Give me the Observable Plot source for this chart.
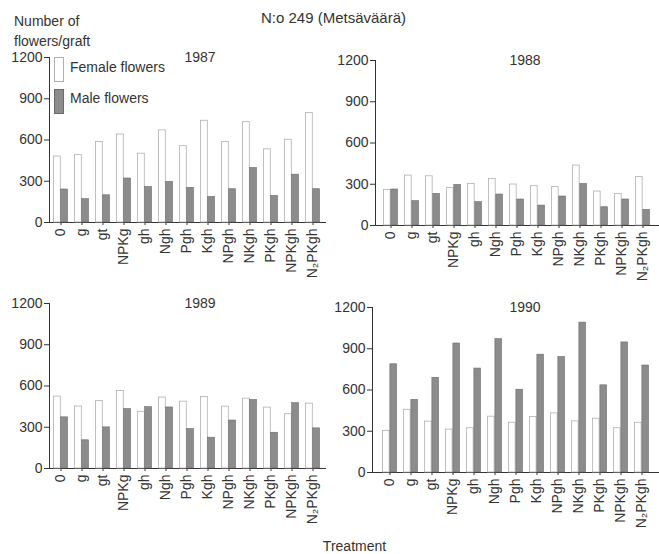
<!DOCTYPE html>
<html>
<head>
<meta charset="utf-8">
<script src="https://cdn.jsdelivr.net/npm/d3@7"></script>
<script src="https://cdn.jsdelivr.net/npm/@observablehq/plot@0.6"></script>
<style>
  body { margin: 0; background: #fff; }
  #chart { position: relative; width: 659px; height: 554px; font-family: "Liberation Sans", Arial, sans-serif; color: #333; overflow: hidden; }
  .abs { position: absolute; white-space: nowrap; }
  .txt { font-size: 14px; line-height: 16px; color: #333; }
  .box { position: absolute; width: 8px; height: 23px; }
</style>
</head>
<body>
<div id="chart"></div>
<script>
const categories = ["0", "g", "gt", "NPKg", "gh", "Ngh", "Pgh", "Kgh", "NPgh", "NKgh", "PKgh", "NPKgh", "N₂PKgh"];
const female1987 = [480, 490, 585, 640, 500, 670, 555, 740, 585, 730, 532, 602, 796];
const male1987   = [240, 170, 198, 320, 258, 295, 252, 186, 242, 396, 193, 348, 242];
const female1988 = [259, 363, 358, 272, 302, 338, 298, 286, 279, 436, 247, 230, 352];
const male1988   = [262, 177, 230, 295, 170, 225, 189, 145, 211, 302, 133, 189, 114];
const female1989 = [523, 451, 490, 564, 412, 516, 486, 520, 450, 508, 443, 395, 472];
const male1989   = [372, 205, 299, 432, 446, 444, 287, 224, 349, 498, 260, 475, 292];
const female1990 = [302, 456, 370, 312, 322, 406, 362, 403, 430, 372, 391, 322, 362];
const male1990   = [787, 528, 689, 938, 756, 970, 602, 857, 840, 1090, 634, 946, 778];
const yTicks = [0, 300, 600, 900, 1200];
const years = ["1987", "1988", "1989", "1990"];

const chart = document.getElementById("chart");
const FONT = "'Liberation Sans', Arial, sans-serif";

function panel(female, male, cfg) {
  const rows = categories.map((c, i) => ({treatment: c, female: female[i], male: male[i]}));
  const pI = 0.28, pO = cfg.pO;
  const step = (cfg.width - cfg.marginLeft - cfg.marginRight) / (categories.length - pI + 2 * pO);
  const half = step * (1 - pI) / 2;
  return Plot.plot({
    width: cfg.width,
    height: 245,
    marginTop: 12,
    marginBottom: 68,
    marginLeft: cfg.marginLeft,
    marginRight: cfg.marginRight,
    style: {fontFamily: FONT, fontSize: "14px", color: "#333", background: "transparent"},
    x: {domain: categories, paddingInner: pI, paddingOuter: pO, tickRotate: -90, tickSize: 3, tickPadding: 3, label: null, line: true},
    y: {domain: [0, 1200], ticks: yTicks, tickFormat: "d", tickSize: 5, tickPadding: 2, label: null, line: true},
    marks: [
      Plot.barY(rows, {x: "treatment", y: "female", fill: "white", stroke: "#b0b0b0", strokeWidth: 0.8, insetLeft: 0.5, insetRight: half}),
      Plot.barY(rows, {x: "treatment", y: "male", fill: "#8c8c8c", stroke: "#6a6a6a", strokeWidth: 0.6, insetLeft: half, insetRight: 0.5})
    ]
  });
}

function place(el, left, top) {
  el.style.position = "absolute";
  el.style.left = left + "px";
  el.style.top = top + "px";
  chart.appendChild(el);
}

place(panel(female1987, male1987, {width: 330, marginLeft: 49, marginRight: 5, pO: 0.1}), 0, 45);
place(panel(female1988, male1988, {width: 329, marginLeft: 45, marginRight: 1, pO: 0.15}), 330, 48);
place(panel(female1989, male1989, {width: 330, marginLeft: 49, marginRight: 5, pO: 0.1}), 0, 291);
place(panel(female1990, male1990, {width: 329, marginLeft: 42, marginRight: 0, pO: 0.2}), 330, 295);

function text(str, left, top, extra) {
  const d = document.createElement("div");
  d.className = "abs txt";
  d.textContent = str;
  d.style.left = left + "px";
  d.style.top = top + "px";
  if (extra) Object.assign(d.style, extra);
  chart.appendChild(d);
  return d;
}

text("N:o 249 (Metsäväärä)", 0, 10, {width: "659px", textAlign: "center", paddingLeft: "8px", boxSizing: "border-box", fontSize: "15px"});
text("Number of", 14, 13);
text("flowers/graft", 14, 33);
text(years[0], 170, 49, {width: "60px", textAlign: "center"});
text(years[1], 495, 52, {width: "60px", textAlign: "center"});
text(years[2], 170, 295, {width: "60px", textAlign: "center"});
text(years[3], 495, 299, {width: "60px", textAlign: "center"});
text("Treatment", 0, 538, {width: "659px", textAlign: "center", paddingLeft: "50px", boxSizing: "border-box"});

// legend
const b1 = document.createElement("div");
b1.className = "box";
Object.assign(b1.style, {left: "54px", top: "57px", background: "#fff", border: "1px solid #b0b0b0"});
chart.appendChild(b1);
const b2 = document.createElement("div");
b2.className = "box";
Object.assign(b2.style, {left: "54px", top: "89px", background: "#8c8c8c", border: "1px solid #6a6a6a"});
chart.appendChild(b2);
text("Female flowers", 70, 59);
text("Male flowers", 70, 90);
</script>
</body>
</html>
